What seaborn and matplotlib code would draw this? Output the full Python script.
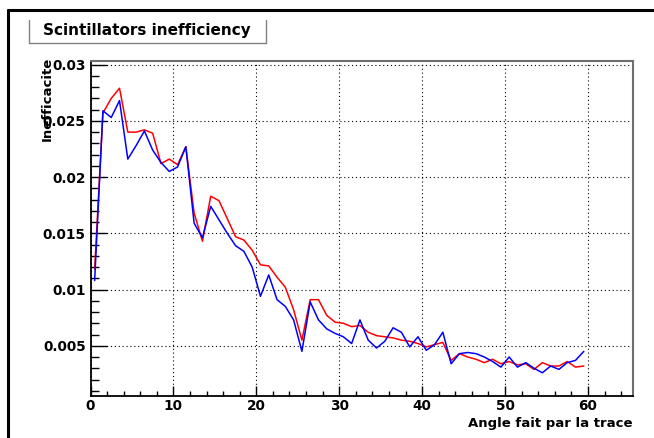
import numpy as np
import pandas as pd
import matplotlib
matplotlib.use('Agg')
import matplotlib.pyplot as plt
import seaborn as sns
from matplotlib.lines import Line2D
from matplotlib.ticker import MultipleLocator, FuncFormatter

# bin centres of the angle histogram (1 degree bins)
angles = np.arange(60) + 0.5

ineff_red = [0.0118, 0.0257, 0.0270, 0.0279, 0.0240, 0.0240, 0.0242, 0.0239, 0.0212, 0.0216,
             0.0211, 0.0227, 0.0168, 0.0143, 0.0183, 0.0179, 0.0163, 0.0147, 0.0144, 0.0135,
             0.0122, 0.0121, 0.0111, 0.0102, 0.0082, 0.0055, 0.0091, 0.0091, 0.0077, 0.0071,
             0.0070, 0.0067, 0.0068, 0.0062, 0.0059, 0.0058, 0.0057, 0.0055, 0.0054, 0.0052,
             0.0049, 0.0051, 0.0053, 0.0037, 0.0043, 0.0040, 0.0038, 0.0035, 0.0038, 0.0034,
             0.0036, 0.0033, 0.0034, 0.0029, 0.0035, 0.0032, 0.0032, 0.0036, 0.0031, 0.0032]

ineff_blue = [0.0108, 0.0259, 0.0253, 0.0268, 0.0216, 0.0228, 0.0241, 0.0224, 0.0213, 0.0205,
              0.0209, 0.0227, 0.0159, 0.0146, 0.0174, 0.0162, 0.0150, 0.0139, 0.0134, 0.0120,
              0.0094, 0.0113, 0.0091, 0.0085, 0.0073, 0.0045, 0.0089, 0.0073, 0.0065, 0.0061,
              0.0058, 0.0052, 0.0073, 0.0055, 0.0048, 0.0054, 0.0066, 0.0062, 0.0049, 0.0058,
              0.0046, 0.0051, 0.0062, 0.0034, 0.0043, 0.0044, 0.0043, 0.0040, 0.0036, 0.0031,
              0.0040, 0.0031, 0.0035, 0.0030, 0.0026, 0.0032, 0.0029, 0.0035, 0.0037, 0.0045]

series_names = ['red', 'blue']
series_colors = {'red': '#ff0000', 'blue': '#0000ff'}

df = pd.DataFrame({
    'angle': np.concatenate([angles, angles]),
    'ineff': ineff_red + ineff_blue,
    'serie': ['red'] * len(angles) + ['blue'] * len(angles),
})

sns.set_style('white')
plt.rcParams['font.family'] = ['DejaVu Sans']
plt.rcParams['font.weight'] = 'bold'
plt.rcParams['text.color'] = 'black'
plt.rcParams['xtick.color'] = 'black'
plt.rcParams['ytick.color'] = 'black'
plt.rcParams['axes.labelcolor'] = 'black'

W, H = 654, 438
ax_left, ax_right, ax_top, ax_bottom = 90.5, 632.7, 60.7, 395.7
fig = plt.figure(figsize=(W / 100, H / 100), dpi=100)
ax = fig.add_axes([ax_left / W, 1 - ax_bottom / H, (ax_right - ax_left) / W, (ax_bottom - ax_top) / H])

sns.lineplot(data=df, x='angle', y='ineff', hue='serie', hue_order=series_names,
             palette=series_colors, estimator=None, sort=False, linewidth=1.1,
             legend=False, ax=ax)

ax.set_xlim(0, 65.4)
ax.set_ylim(0.00056, 0.03035)
ax.set_xlabel('')
ax.set_ylabel('')

ax.xaxis.set_major_locator(MultipleLocator(10))
ax.xaxis.set_minor_locator(MultipleLocator(2))
ax.yaxis.set_major_locator(MultipleLocator(0.005))
ax.yaxis.set_minor_locator(MultipleLocator(0.001))
ax.yaxis.set_major_formatter(FuncFormatter(lambda v, p: f'{v:g}'))

ax.tick_params(axis='y', which='major', direction='in', length=11.5, width=1, pad=3.5,
               labelsize=9.8, left=True, right=False)
ax.tick_params(axis='y', which='minor', direction='in', length=5.8, width=1, left=True, right=False)
ax.tick_params(axis='x', which='major', direction='in', length=7.5, width=1, pad=2.5,
               labelsize=9.8, bottom=True, top=False)
ax.tick_params(axis='x', which='minor', direction='in', length=3.6, width=1, bottom=True, top=False)

ax.grid(True, which='major', color='black', linestyle=(0, (1, 2.5)), linewidth=0.8)

for side in ['left', 'bottom']:
    ax.spines[side].set_color('black')
    ax.spines[side].set_linewidth(1.3)
for side in ['top', 'right']:
    ax.spines[side].set_color('#6e6e6e')
    ax.spines[side].set_linewidth(1.5)

# axis titles placed like ROOT does (at the end of each axis)
fig.text(47 / W, 1 - 57 / H, 'Inefficacite', rotation=90, ha='center', va='top',
         fontsize=9.5, fontweight='bold')
fig.text(632 / W, 1 - 423 / H, 'Angle fait par la trace', ha='right', va='center',
         fontsize=9.5, fontweight='bold')

# title pave
fig.text(147 / W, 1 - 31 / H, 'Scintillators inefficiency', ha='center', va='center',
         fontsize=11, fontweight='bold')
gray = '#808080'
fig.add_artist(Line2D([29 / W, 29 / W], [1 - 20 / H, 1 - 43 / H], color=gray, lw=1))
fig.add_artist(Line2D([266 / W, 266 / W], [1 - 20 / H, 1 - 43 / H], color=gray, lw=1))
fig.add_artist(Line2D([29 / W, 266 / W], [1 - 43 / H, 1 - 43 / H], color=gray, lw=1))

# canvas frame (top and left)
fig.add_artist(Line2D([8 / W, 1], [1 - 10 / H, 1 - 10 / H], color='black', lw=2.2))
fig.add_artist(Line2D([8 / W, 8 / W], [1 - 10 / H, 0], color='black', lw=2.2))

fig.savefig('out.png', dpi=100)
